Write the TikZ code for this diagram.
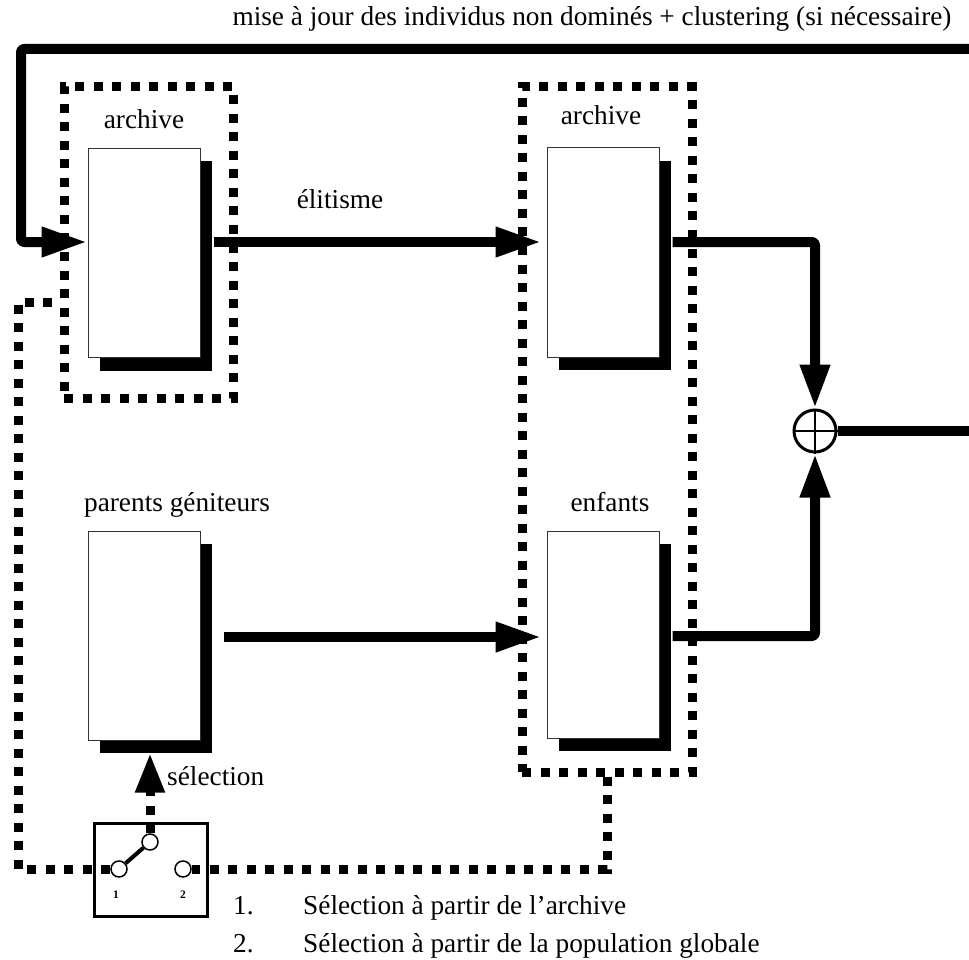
\documentclass[tikz,border=0pt]{standalone}
\usepackage{fontspec}
\setmainfont{Liberation Serif}
\usetikzlibrary{arrows.meta,shadows}
\begin{document}
\begin{tikzpicture}[x=1pt,y=-1pt,
  lbl/.style={font=\fontsize{27.3}{31}\selectfont, inner sep=0pt, anchor=base},
  store/.style={draw=black!80, line width=1pt, fill=white, minimum width=112pt, minimum height=209pt, inner sep=0pt,
     drop shadow={shadow xshift=12pt, shadow yshift=-13pt, opacity=1, fill=black}},
  flow/.style={line width=10pt, line join=round, rounded corners=3pt},
  flowarr/.style={flow, -{Triangle[length=46pt,width=28pt]}},
  vflowarr/.style={flow, -{Triangle[length=44pt,width=28pt]}},
  dots/.style={line width=9pt, dash pattern=on 9pt off 9.5pt},
  group/.style={draw, dots, inner sep=0pt},
  contact/.style={circle, draw, line width=1.5pt, fill=white, minimum size=16pt, inner sep=0pt},
  numlbl/.style={font=\bfseries\fontsize{11.5}{12}\selectfont, inner sep=0pt},
]
\useasboundingbox (0,0) rectangle (969,960);

% dotted groups
\node[group, minimum width=169pt, minimum height=311pt] (grp1) at (148.5,242.5) {};
\node[group, minimum width=170pt, minimum height=685pt] (grp2) at (607,429.5) {};

% stores
\node[store] (arch1) at (144,253) {};
\node[store] (arch2) at (603,252.5) {};
\node[store] (par) at (144,635.5) {};
\node[store, minimum height=207pt] (enf) at (603,634.5) {};

% summing junction
\node[circle, draw, line width=3pt, minimum size=42pt, inner sep=0pt, fill=white] (sum) at (815,431) {};
\draw[line width=1.5pt] (sum.north) -- (sum.south) (sum.west) -- (sum.east);

% switch
\node[draw, line width=3pt, minimum width=113pt, minimum height=93pt, inner sep=0pt] (sw) at (151,870) {};
\node[contact] (c1) at (119,869) {};
\node[contact] (c2) at (183,869) {};
\node[contact] (c0) at (150,842) {};
\draw[line width=4pt] (c1) -- (c0);
\node[numlbl] (n1) at (116,895) {1};
\node[numlbl] (n2) at (183,895) {2};

% coordinates
\coordinate (fbstart) at (969,49);
\coordinate (fbc1) at (21,49);
\coordinate (fbc2) at (21,242);
\coordinate (out) at (969,431);
\coordinate (dl) at (18,302);
\coordinate (selbase) at (150,792);

% dotted selection path
\draw[dots] (grp2.south) -- (grp2.south |- c2) -- (c2.east);
\draw[dots] (c1.west) -- (dl |- c1) -- (dl) -- (grp1.west |- dl);
\draw[dots] (c0.north) -- (selbase);
\draw[line width=8pt, -{Triangle[length=39pt,width=28pt]}] (selbase) -- ([yshift=-13pt]c0 |- par.south);

% solid flows
\draw[flowarr] (fbstart) -- (fbc1) -- (fbc2) -- ([yshift=11pt]arch1.west);
\draw[flowarr] ([xshift=13pt,yshift=11pt]arch1.east) -- ([xshift=-5pt,yshift=10.5pt]arch2.west);
\draw[flowarr] ([xshift=23pt,yshift=-1.5pt]par.east) -- ([xshift=-5pt,yshift=-1.5pt]par.east -| enf.west);
\draw[vflowarr] ([xshift=13pt,yshift=10.5pt]arch2.east) -| (sum.north);
\draw[vflowarr] ([xshift=13pt,yshift=-1.5pt]enf.east) -| (sum.south);
\draw[flow] (sum.east) -- (out);

% labels
\node[lbl] (tarch1) at (144,129) {archive};
\node[lbl] (tarch2) at (601,125) {archive};
\node[lbl] (telit) at (340,208) {élitisme};
\node[lbl] (tpar) at (177,511) {parents géniteurs};
\node[lbl] (tenf) at (610,511) {enfants};
\node[lbl, anchor=base west] (tsel) at (167,785) {sélection};
\node[lbl] (ttop) at (592,26) {mise à jour des individus non dominés + clustering (si nécessaire)};
\node[lbl, anchor=base west] (l1n) at (233,914) {1.};
\node[lbl, anchor=base west] (l1) at (303,914) {Sélection à partir de l’archive};
\node[lbl, anchor=base west] (l2n) at (233,952) {2.};
\node[lbl, anchor=base west] (l2) at (303,952) {Sélection à partir de la population globale};
\end{tikzpicture}
\end{document}
